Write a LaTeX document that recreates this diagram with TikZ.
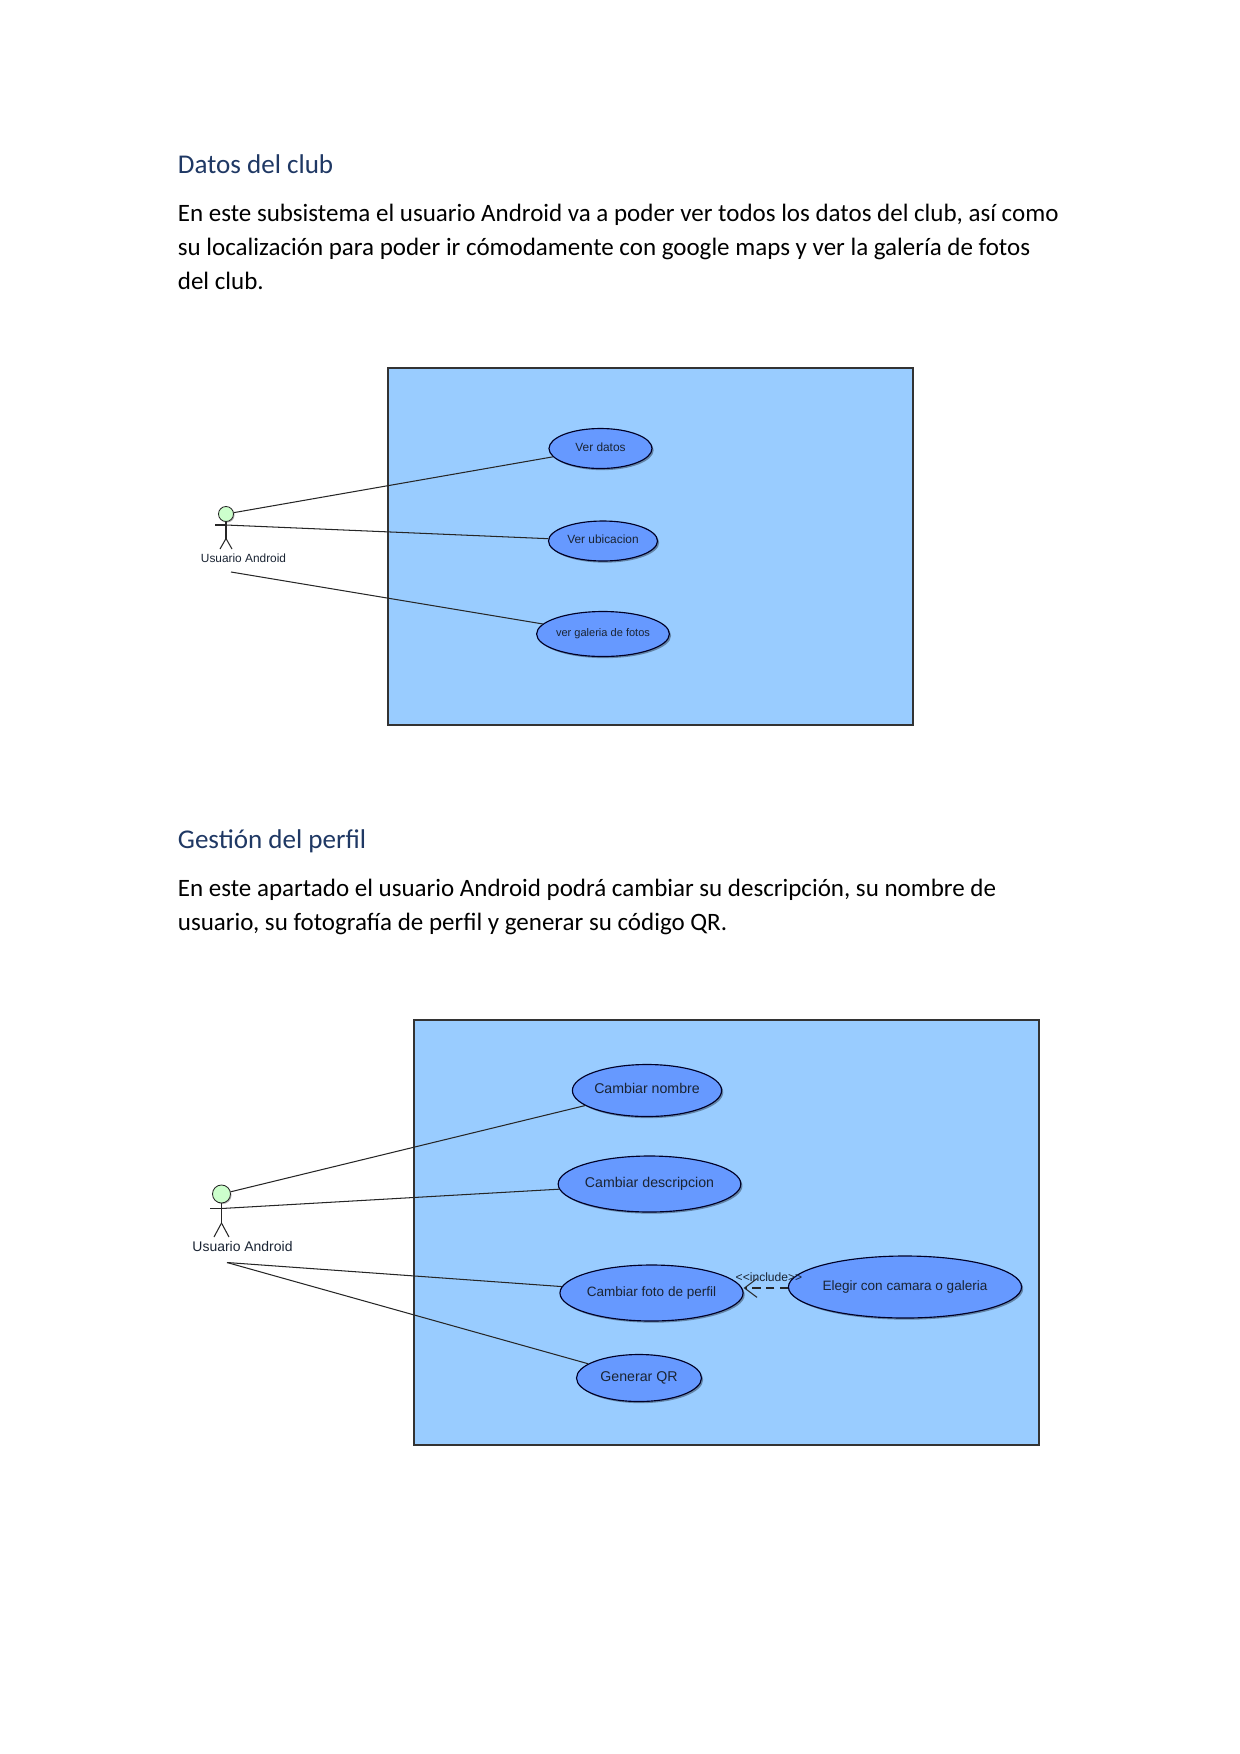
\documentclass[tikz,border=0pt]{standalone}
\usepackage{fontspec}
\setmainfont{Carlito}
\newfontfamily\umlfont{Liberation Sans}
\usetikzlibrary{shapes.geometric,shadows,arrows.meta}
\definecolor{titulo}{HTML}{1F3864}
\definecolor{sistema}{HTML}{99CCFF}
\definecolor{caso}{HTML}{6699FF}
\definecolor{cabeza}{HTML}{CCFFCC}
\definecolor{umltexto}{HTML}{1A2433}
\newcommand{\alto}[1]{\raisebox{1.6pt}{#1}}
\tikzset{
    titulotxt/.style={anchor=base west,inner sep=0pt,text=titulo,font=\fontsize{13}{16}\selectfont},
    cuerpo/.style={anchor=base west,inner sep=0pt,text=black,font=\fontsize{12}{16}\selectfont},
    sistemabox/.style={draw=black!80,line width=.5pt,fill=sistema},
    usecase/.style 2 args={ellipse,draw=black!85!blue,line width=.55pt,fill=caso,inner sep=0pt,
        text=umltexto,minimum width=#1*.48pt,minimum height=#2*.48pt,
        drop shadow={shadow xshift=.8pt,shadow yshift=-.8pt,opacity=.35,fill=black}},
    actorhead/.style={circle,draw=black!85,line width=.4pt,fill=cabeza,inner sep=0pt,minimum size=#1*.48pt,
        drop shadow={shadow xshift=.5pt,shadow yshift=-.5pt,opacity=.3,fill=black}},
    asociacion/.style={draw=black!85,line width=.5pt},
    umltxt/.style={inner sep=0pt,text=umltexto},
}
\begin{document}
\begin{tikzpicture}[x=.48pt,y=-.48pt]
    \useasboundingbox (0,0) rectangle (1240,1754);
    % primer apartado
    \node[titulotxt] (tit1) at (177.5,173) {Datos del club};
    \node[cuerpo] (lin1) at (177.5,221.5) {En este subsistema el usuario Android va a poder ver todos los datos del club, así como};
    \node[cuerpo] (lin2) at (177.5,255) {su localización para poder ir cómodamente con google maps y ver la galería de fotos};
    \node[cuerpo] (lin3) at (177.5,289) {del club.};
    \filldraw[sistemabox] (388,368) rectangle (913,725);
    \node[usecase={103}{40},font=\umlfont\fontsize{5.7}{7}\selectfont] (datos) at (600.5,448.5) {\alto{Ver datos}};
    \node[usecase={109}{40},font=\umlfont\fontsize{5.7}{7}\selectfont] (ubicacion) at (603,541) {\alto{Ver ubicacion}};
    \node[usecase={127}{45},font=\umlfont\fontsize{5.3}{7}\selectfont] (galeria) at (603,634) {\alto{ver galeria de fotos}};
    \node[actorhead=15] (cabA) at (226,514) {};
    \coordinate (hombroA) at (226,525);
    \coordinate (caderaA) at (226,538.5);
    \coordinate (libreA) at (231,572);
    \draw[asociacion] (cabA) -- (caderaA);
    \draw[asociacion] (215,525) -- (hombroA);
    \draw[asociacion] (caderaA) -- (220,549);
    \draw[asociacion] (caderaA) -- (232,549);
    \node[umltxt,font=\umlfont\fontsize{5.7}{7}\selectfont] (usuA) at (243.5,558.5) {Usuario Android};
    \draw[asociacion] (cabA) -- (datos);
    \draw[asociacion] (hombroA) -- (ubicacion);
    \draw[asociacion] (libreA) -- (galeria);
    % segundo apartado
    \node[titulotxt] (tit2) at (177.5,848) {Gestión del perfil};
    \node[cuerpo] (lin4) at (177.5,896) {En este apartado el usuario Android podrá cambiar su descripción, su nombre de};
    \node[cuerpo] (lin5) at (177.5,930) {usuario, su fotografía de perfil y generar su código QR.};
    \filldraw[sistemabox] (414,1020) rectangle (1039,1445);
    \node[usecase={140}{52},font=\umlfont\fontsize{6.8}{8}\selectfont] (nombre) at (647,1090.5) {\alto{Cambiar nombre}};
    \node[usecase={163}{56},font=\umlfont\fontsize{6.8}{8}\selectfont] (descripcion) at (649.5,1184) {\alto{Cambiar descripcion}};
    \node[usecase={168}{56},font=\umlfont\fontsize{6.5}{8}\selectfont] (foto) at (651.5,1293) {Cambiar foto de perfil};
    \node[usecase={202}{62},font=\umlfont\fontsize{6.5}{8}\selectfont] (elegir) at (905,1287) {\alto{Elegir con camara o galeria}};
    \node[usecase={125}{47},font=\umlfont\fontsize{6.8}{8}\selectfont] (qr) at (639,1378) {\alto{Generar QR}};
    \node[actorhead=18] (cabB) at (221.5,1194) {};
    \coordinate (hombroB) at (221.5,1208.5);
    \coordinate (caderaB) at (221.5,1223);
    \coordinate (libreB) at (227,1262.5);
    \draw[asociacion] (cabB) -- (caderaB);
    \draw[asociacion] (210,1208.5) -- (hombroB);
    \draw[asociacion] (caderaB) -- (214,1237);
    \draw[asociacion] (caderaB) -- (229,1237);
    \node[umltxt,font=\umlfont\fontsize{6.7}{8}\selectfont] (usuB) at (242.5,1246.5) {Usuario Android};
    \draw[asociacion] (cabB) -- (nombre);
    \draw[asociacion] (hombroB) -- (descripcion);
    \draw[asociacion] (libreB) -- (foto);
    \draw[asociacion] (libreB) -- (qr);
    \draw[asociacion,dashed,dash pattern=on 4pt off 2.5pt,-{Straight Barb[length=6pt,width=9pt]}] (elegir.west|-0,1288) -- (foto.east|-0,1288);
    \node[umltxt,font=\umlfont\fontsize{5.8}{7}\selectfont] (incl) at (769,1277) {<{}<include>{}>};
\end{tikzpicture}
\end{document}
